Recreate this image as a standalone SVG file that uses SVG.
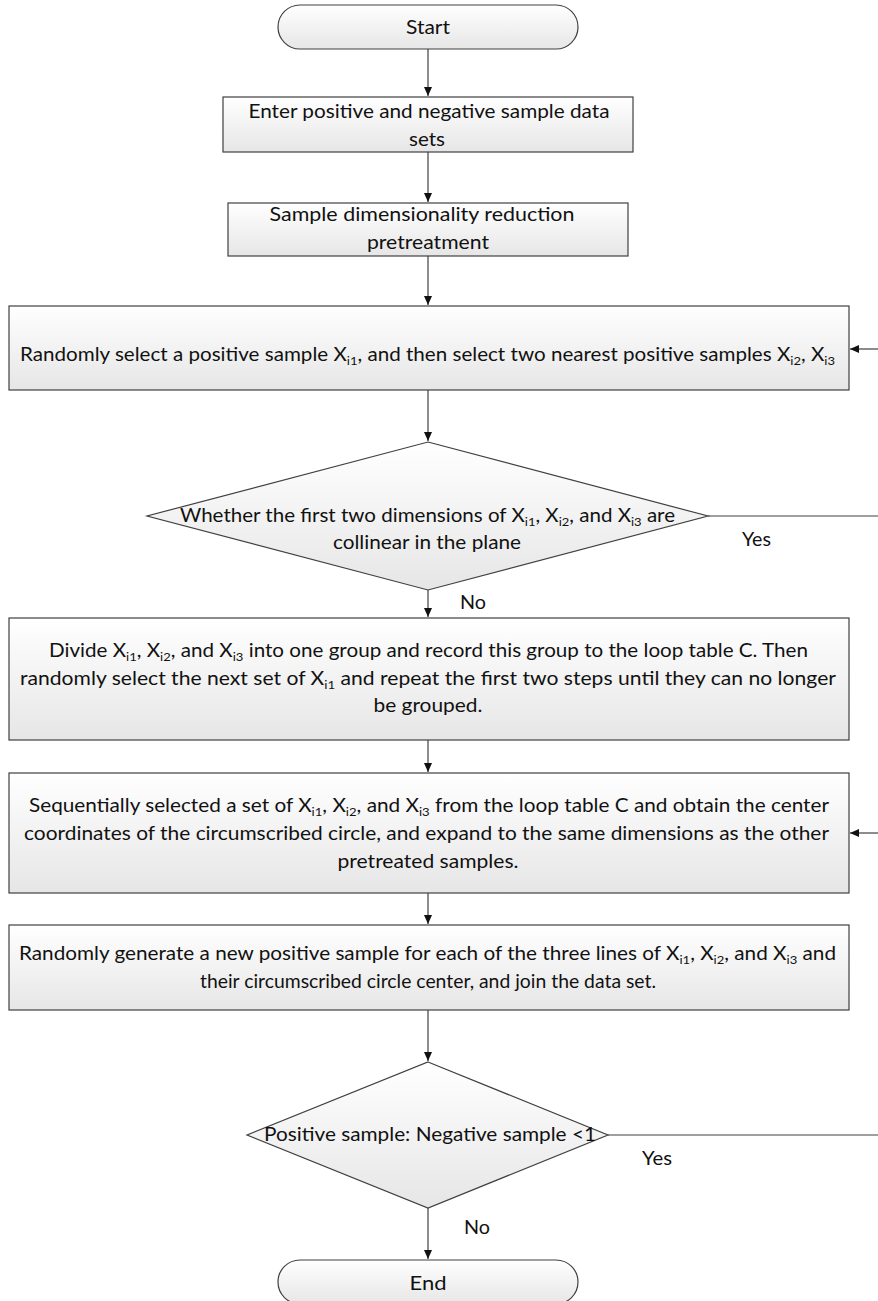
<svg xmlns="http://www.w3.org/2000/svg" width="878" height="1301" viewBox="0 0 878 1301">
<style>
.shape{fill:url(#g);stroke:#404040;stroke-width:1.2}
.t{font-family:Lato,"Liberation Sans",Arial,sans-serif;font-size:19px;fill:#111;text-anchor:middle}
.lab{font-family:Lato,"Liberation Sans",Arial,sans-serif;font-size:19px;fill:#111}
.s{font-size:12px}
.c{stroke:#404040;stroke-width:1.2;fill:none}
</style>
<defs>
<linearGradient id="g" x1="0" y1="0" x2="0" y2="1">
<stop offset="0" stop-color="#ffffff"/>
<stop offset="1" stop-color="#e6e6e6"/>
</linearGradient>
<marker id="a" markerWidth="10" markerHeight="10" refX="9" refY="5" orient="auto" markerUnits="userSpaceOnUse">
<path d="M0,1 L9,5 L0,9 Z" fill="#111"/>
</marker>
</defs>
<g id="connectors">
<line class="c" x1="428" y1="49" x2="428" y2="96" marker-end="url(#a)"/>
<line class="c" x1="428" y1="152" x2="428" y2="202" marker-end="url(#a)"/>
<line class="c" x1="428" y1="256" x2="428" y2="305" marker-end="url(#a)"/>
<line class="c" x1="428" y1="390" x2="428" y2="441" marker-end="url(#a)"/>
<line class="c" x1="428" y1="590" x2="428" y2="617" marker-end="url(#a)"/>
<line class="c" x1="428" y1="740" x2="428" y2="772" marker-end="url(#a)"/>
<line class="c" x1="428" y1="893" x2="428" y2="924" marker-end="url(#a)"/>
<line class="c" x1="428" y1="1010" x2="428" y2="1061" marker-end="url(#a)"/>
<line class="c" x1="428" y1="1208" x2="428" y2="1259" marker-end="url(#a)"/>
<line class="c" x1="708" y1="516" x2="878" y2="516"/>
<line class="c" x1="608" y1="1135" x2="878" y2="1135"/>
<line class="c" x1="878" y1="349" x2="850" y2="349" marker-end="url(#a)"/>
<line class="c" x1="878" y1="833" x2="850" y2="833" marker-end="url(#a)"/>
<text class="lab" x="742" y="546" textLength="29" lengthAdjust="spacingAndGlyphs">Yes</text>
<text class="lab" x="460" y="609" textLength="26" lengthAdjust="spacingAndGlyphs">No</text>
<text class="lab" x="642" y="1165" textLength="30" lengthAdjust="spacingAndGlyphs">Yes</text>
<text class="lab" x="464" y="1234" textLength="26" lengthAdjust="spacingAndGlyphs">No</text>
</g>
<g id="start">
<rect class="shape" x="278" y="5" width="300" height="44" rx="22"/>
<text class="t" x="428" y="34" textLength="44" lengthAdjust="spacingAndGlyphs">Start</text>
</g>
<g id="enter">
<rect class="shape" x="223" y="97" width="410" height="55"/>
<text class="t" x="429" y="118" textLength="361" lengthAdjust="spacingAndGlyphs">Enter positive and negative sample data</text>
<text class="t" x="427" y="146" textLength="36" lengthAdjust="spacingAndGlyphs">sets</text>
</g>
<g id="reduce">
<rect class="shape" x="228" y="203" width="400" height="53"/>
<text class="t" x="422" y="221" textLength="305" lengthAdjust="spacingAndGlyphs">Sample dimensionality reduction</text>
<text class="t" x="428" y="249" textLength="122" lengthAdjust="spacingAndGlyphs">pretreatment</text>
</g>
<g id="select">
<rect class="shape" x="9" y="306" width="840" height="84"/>
<text class="lab" x="20" y="361" textLength="815" lengthAdjust="spacingAndGlyphs">Randomly select a positive sample X<tspan class="s" dy="4">i1</tspan><tspan dy="-4">, and then select two nearest positive samples X</tspan><tspan class="s" dy="4">i2</tspan><tspan dy="-4">, X</tspan><tspan class="s" dy="4">i3</tspan></text>
</g>
<g id="collinear">
<polygon class="shape" points="428,442 708,516 428,590 147,516"/>
<text class="lab" x="180" y="522" textLength="495" lengthAdjust="spacingAndGlyphs">Whether the first two dimensions of X<tspan class="s" dy="4">i1</tspan><tspan dy="-4">, X</tspan><tspan class="s" dy="4">i2</tspan><tspan dy="-4">, and X</tspan><tspan class="s" dy="4">i3</tspan><tspan dy="-4"> are</tspan></text>
<text class="t" x="427" y="549" textLength="188" lengthAdjust="spacingAndGlyphs">collinear in the plane</text>
</g>
<g id="divide">
<rect class="shape" x="9" y="618" width="840" height="122"/>
<text class="lab" x="49" y="657" textLength="759" lengthAdjust="spacingAndGlyphs">Divide X<tspan class="s" dy="4">i1</tspan><tspan dy="-4">, X</tspan><tspan class="s" dy="4">i2</tspan><tspan dy="-4">, and X</tspan><tspan class="s" dy="4">i3</tspan><tspan dy="-4"> into one group and record this group to the loop table C. Then</tspan></text>
<text class="lab" x="20" y="685" textLength="816" lengthAdjust="spacingAndGlyphs">randomly select the next set of X<tspan class="s" dy="4">i1</tspan><tspan dy="-4"> and repeat the first two steps until they can no longer</tspan></text>
<text class="t" x="428" y="712" textLength="109" lengthAdjust="spacingAndGlyphs">be grouped.</text>
</g>
<g id="sequential">
<rect class="shape" x="9" y="773" width="840" height="120"/>
<text class="lab" x="29" y="812" textLength="800" lengthAdjust="spacingAndGlyphs">Sequentially selected a set of X<tspan class="s" dy="4">i1</tspan><tspan dy="-4">, X</tspan><tspan class="s" dy="4">i2</tspan><tspan dy="-4">, and X</tspan><tspan class="s" dy="4">i3</tspan><tspan dy="-4">  from the loop table C and obtain the center</tspan></text>
<text class="lab" x="24" y="840" textLength="805" lengthAdjust="spacingAndGlyphs">coordinates of the circumscribed circle, and expand to the same dimensions as the other</text>
<text class="t" x="428" y="868" textLength="181" lengthAdjust="spacingAndGlyphs">pretreated samples.</text>
</g>
<g id="generate">
<rect class="shape" x="9" y="925" width="840" height="85"/>
<text class="lab" x="19" y="960" textLength="817" lengthAdjust="spacingAndGlyphs">Randomly generate a new positive sample for each of the three lines of X<tspan class="s" dy="4">i1</tspan><tspan dy="-4">, X</tspan><tspan class="s" dy="4">i2</tspan><tspan dy="-4">, and X</tspan><tspan class="s" dy="4">i3</tspan><tspan dy="-4"> and</tspan></text>
<text class="t" x="428" y="988" textLength="456" lengthAdjust="spacingAndGlyphs">their circumscribed circle center, and join the data set.</text>
</g>
<g id="ratio">
<polygon class="shape" points="428,1062 608,1135 428,1208 247,1135"/>
<text class="t" x="430" y="1141" textLength="332" lengthAdjust="spacingAndGlyphs">Positive sample: Negative sample &lt;1</text>
</g>
<g id="end">
<rect class="shape" x="278" y="1260" width="300" height="44" rx="22"/>
<text class="t" x="428" y="1290" textLength="37" lengthAdjust="spacingAndGlyphs">End</text>
</g>
</svg>
